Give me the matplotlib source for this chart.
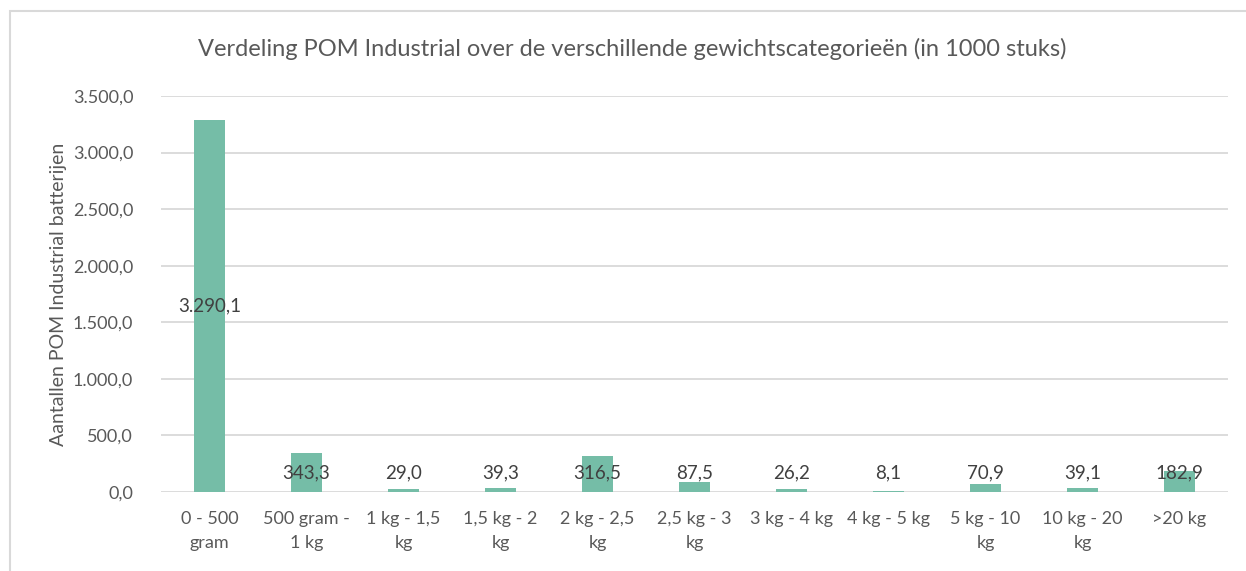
import numpy as np
import matplotlib.pyplot as plt
from matplotlib.patches import Rectangle

categories = ["0 - 500\ngram", "500 gram -\n1 kg", "1 kg - 1,5\nkg", "1,5 kg - 2\nkg",
              "2 kg - 2,5\nkg", "2,5 kg - 3\nkg", "3 kg - 4 kg", "4 kg - 5 kg",
              "5 kg - 10\nkg", "10 kg - 20\nkg", ">20 kg"]
values = [3290.1, 343.3, 29.0, 39.3, 316.5, 87.5, 26.2, 8.1, 70.9, 39.1, 182.9]
yticks = [0, 500, 1000, 1500, 2000, 2500, 3000, 3500]

def nl(v):
    s = f"{v:,.1f}"
    return s.replace(",", "X").replace(".", ",").replace("X", ".")

plt.rcParams['font.family'] = ['Lato', 'DejaVu Sans']
txt = '#595959'

fig = plt.figure(figsize=(12.46, 5.71), dpi=100)
W, H = 1246, 571
ax = fig.add_axes([161 / W, 1 - 492 / H, (1228 - 161) / W, (492 - 96) / H])

x = np.arange(len(values))
ax.bar(x, values, width=0.31, color='#75BDA7', zorder=2)
for xi, v in zip(x, values):
    ax.text(xi, max(v / 2, 172), nl(v), ha='center', va='center', fontsize=13.5, color='#404040', zorder=3)

ax.set_xlim(-0.5, len(values) - 0.5)
ax.set_ylim(0, 3500)
ax.set_yticks(yticks)
ax.set_yticklabels([nl(t) for t in yticks])
ax.set_xticks(x)
ax.set_xticklabels(categories, linespacing=1.55)
ax.tick_params(axis='both', length=0, labelsize=13, colors=txt)
ax.tick_params(axis='y', pad=20)
ax.tick_params(axis='x', pad=14)
ax.grid(axis='y', color='#D9D9D9', linewidth=1.3, zorder=0)
for s in ax.spines.values():
    s.set_visible(False)

ax.set_ylabel("Aantallen POM Industrial batterijen", fontsize=14, color=txt)
ax.yaxis.set_label_coords((67 - 161) / 1067, 0.5)
fig.text(632 / W, 1 - 49 / H, "Verdeling POM Industrial over de verschillende gewichtscategorieën (in 1000 stuks)",
         ha='center', va='center', fontsize=17, color=txt)

fig.patches.append(Rectangle((10 / W, -0.1), 1.2, 1 - 11 / H + 0.1, transform=fig.transFigure,
                             fill=False, edgecolor='#D9D9D9', linewidth=1.5))

fig.savefig('out.png', dpi=100)
